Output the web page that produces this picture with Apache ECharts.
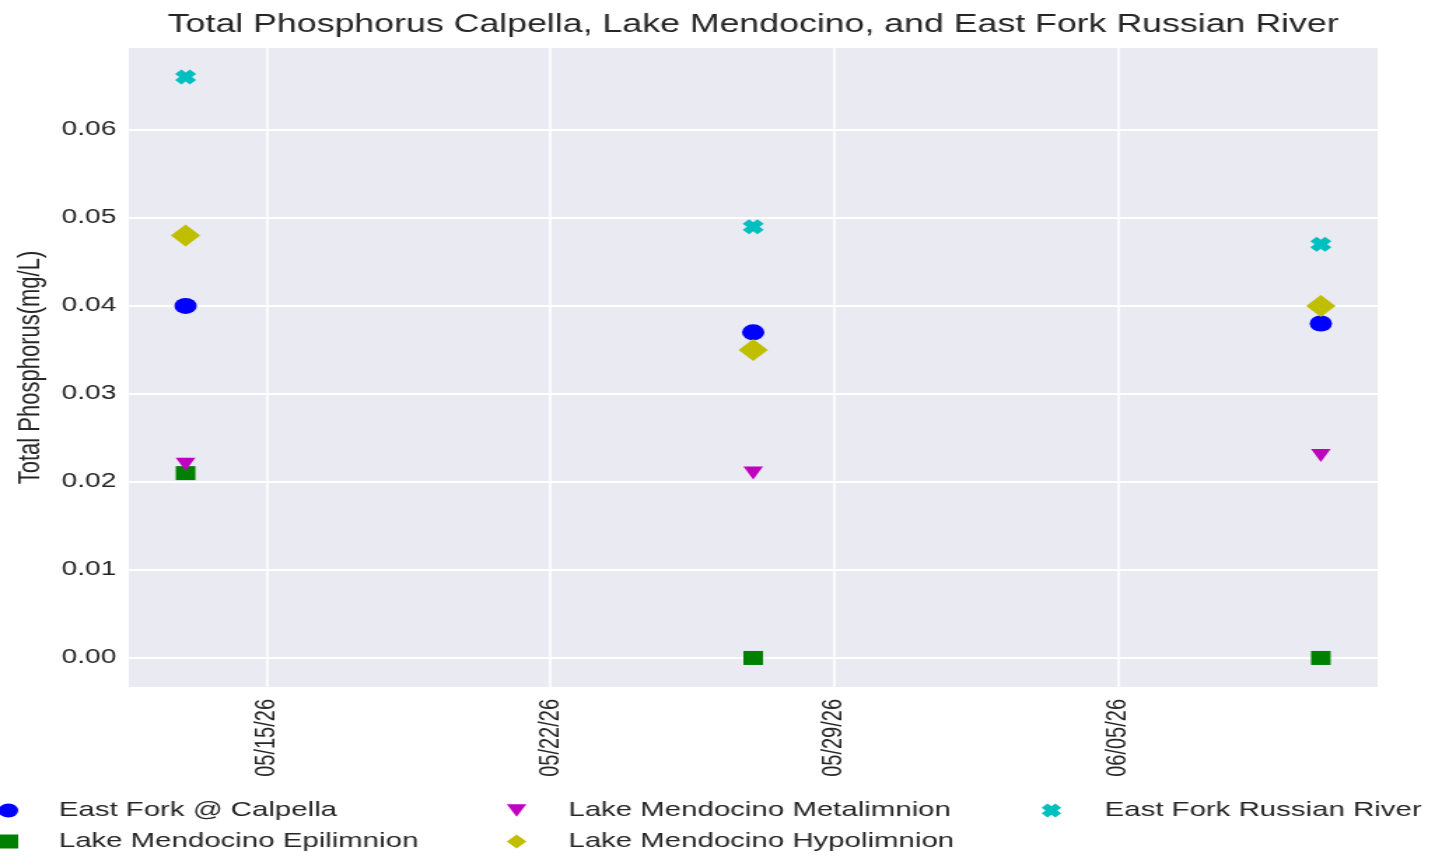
<!DOCTYPE html>
<html>
<head>
<meta charset="utf-8">
<script src="https://cdn.jsdelivr.net/npm/echarts@6/dist/echarts.min.js"></script>
<style>
  html, body { margin: 0; padding: 0; background: #ffffff; overflow: hidden; }
  #wrap { width: 1437px; height: 862px; overflow: hidden; }
  #chart { width: 1026px; height: 862px; transform: scaleX(1.4); transform-origin: 0 0; }
</style>
</head>
<body>
<div id="wrap"><div id="chart"></div></div>
<script>
// ---- data ----
const dates = ['2026-05-13', '2026-05-27', '2026-06-10'];
const calpella = [0.040, 0.037, 0.038];
const epilimnion = [0.021, 0.000, 0.000];
const metalimnion = [0.022, 0.021, 0.023];
const hypolimnion = [0.048, 0.035, 0.040];
const russianRiver = [0.066, 0.049, 0.047];
const xTickDates = ['2026-05-15', '2026-05-22', '2026-05-29', '2026-06-05'];
const yTicks = [0.00, 0.01, 0.02, 0.03, 0.04, 0.05, 0.06];
const seriesNames = ['East Fork @ Calpella', 'Lake Mendocino Epilimnion', 'Lake Mendocino Metalimnion',
                     'Lake Mendocino Hypolimnion', 'East Fork Russian River'];

const DAY = 86400000;
// day number (days since 1970-01-01, UTC)
function dayNum(s) {
  const p = s.split('-').map(Number);
  return Math.round(Date.UTC(p[0], p[1] - 1, p[2]) / DAY);
}
function pad(n) { return (n < 10 ? '0' : '') + n; }
function fmtDate(v) {
  const d = new Date(Math.round(v) * DAY);
  return pad(d.getUTCMonth() + 1) + '/' + pad(d.getUTCDate()) + '/' + pad(d.getUTCFullYear() % 100);
}
function pairs(vals) { return dates.map((d, i) => [dayNum(d), vals[i]]); }

const xMin = dayNum(dates[0]) - 1.4;
const xMax = dayNum(dates[dates.length - 1]) + 1.4;
const xTickVals = xTickDates.map(dayNum);

const XPATH = 'path://M3,0 L5,2 L7,0 L10,3 L8,5 L10,7 L7,10 L5,8 L3,10 L0,7 L2,5 L0,3 Z';
const TRI_DOWN = 'path://M0,0 L10,0 L5,9 Z';
const txt = '#262626';
const font = 'Liberation Sans, Arial, sans-serif';

const chart = echarts.init(document.getElementById('chart'), null, { renderer: 'canvas' });

function legendBlock(items, left, spacer) {
  return {
    data: items,
    orient: 'vertical',
    left: left,
    top: 795,
    itemWidth: 14,
    itemHeight: 14,
    itemGap: 10,
    formatter: '{s|}{name}',
    textStyle: {
      color: txt, fontSize: 21, fontFamily: font,
      rich: { s: { width: spacer } }
    }
  };
}

const option = {
  backgroundColor: '#ffffff',
  animation: false,
  title: {
    text: 'Total Phosphorus Calpella, Lake Mendocino, and East Fork Russian River',
    left: 533, top: 7, textAlign: 'center',
    textStyle: { color: txt, fontSize: 25.5, fontWeight: 'normal', fontFamily: font }
  },
  grid: {
    left: 92, right: 42, top: 48, bottom: 175,
    show: true, backgroundColor: '#eaeaf2', borderWidth: 0
  },
  legend: [
    legendBlock([seriesNames[0], seriesNames[1]], -6, 24),
    legendBlock([{ name: seriesNames[2], icon: TRI_DOWN }, seriesNames[3]], 357, 25),
    legendBlock([seriesNames[4]], 739, 26)
  ],
  xAxis: {
    type: 'value',
    min: xMin, max: xMax,
    axisLine: { show: false },
    axisTick: { show: false, customValues: xTickVals },
    axisLabel: {
      customValues: xTickVals,
      rotate: 90, margin: 12,
      color: txt, fontSize: 20, fontFamily: font,
      formatter: v => fmtDate(v)
    },
    splitLine: { show: true, lineStyle: { color: '#ffffff', width: 1.5 } }
  },
  yAxis: {
    type: 'value',
    min: -0.0033, max: 0.0693,
    name: 'Total Phosphorus(mg/L)',
    nameLocation: 'middle',
    nameGap: 58,
    nameTextStyle: { color: txt, fontSize: 22, fontFamily: font },
    axisLine: { show: false },
    axisTick: { show: false, customValues: yTicks },
    axisLabel: {
      customValues: yTicks,
      margin: 9,
      color: txt, fontSize: 20, fontFamily: font,
      formatter: v => v.toFixed(2)
    },
    splitLine: { show: true, lineStyle: { color: '#ffffff', width: 2 } }
  },
  series: [
    { name: seriesNames[0], type: 'scatter', data: pairs(calpella), symbol: 'circle',
      symbolSize: 16, itemStyle: { color: '#0000ff', opacity: 1 } },
    { name: seriesNames[1], type: 'scatter', data: pairs(epilimnion), symbol: 'rect',
      symbolSize: 14, itemStyle: { color: '#008000', opacity: 1 } },
    { name: seriesNames[2], type: 'scatter', data: pairs(metalimnion), symbol: 'triangle',
      symbolRotate: 180, symbolSize: [14, 13], itemStyle: { color: '#bf00bf', opacity: 1 } },
    { name: seriesNames[3], type: 'scatter', data: pairs(hypolimnion), symbol: 'diamond',
      symbolSize: [21, 22], itemStyle: { color: '#bfbf00', opacity: 1 } },
    { name: seriesNames[4], type: 'scatter', data: pairs(russianRiver), symbol: XPATH,
      symbolSize: 15, itemStyle: { color: '#00bfbf', opacity: 1 } }
  ]
};
chart.setOption(option);
</script>
</body>
</html>
